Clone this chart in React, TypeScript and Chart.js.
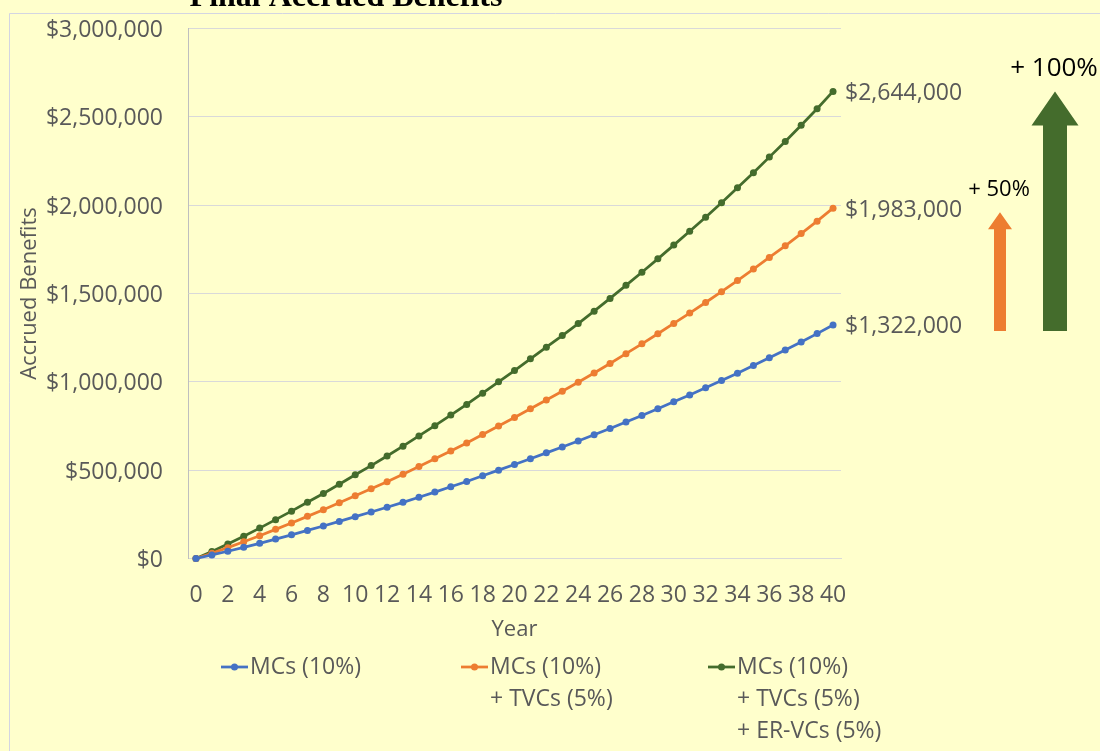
import React, { useEffect, useRef } from 'react';
import { Chart, registerables } from 'chart.js';

Chart.register(...registerables);

// ---------- data ----------
const years = ['0', '1', '2', '3', '4', '5', '6', '7', '8', '9', '10', '11', '12', '13', '14', '15', '16', '17', '18', '19', '20', '21', '22', '23', '24', '25', '26', '27', '28', '29', '30', '31', '32', '33', '34', '35', '36', '37', '38', '39', '40'];

const mcs = [0, 20000, 41000, 63000, 86000, 110000, 134000, 159000, 184000, 210000, 237000, 263000, 290000, 318000, 347000, 376000, 406000, 436000, 468000, 500000, 532000, 565000, 598000, 631000, 665000, 700000, 736000, 773000, 810000, 848000, 887000, 926000, 966000, 1007000, 1049000, 1092000, 1136000, 1180000, 1226000, 1273000, 1322000];

const mcsTvcs = [0, 30000, 61500, 94500, 129000, 165000, 201000, 238500, 276000, 315000, 355500, 394500, 435000, 477000, 520500, 564000, 609000, 654000, 702000, 750000, 798000, 847500, 897000, 946500, 997500, 1050000, 1104000, 1159500, 1215000, 1272000, 1330500, 1389000, 1449000, 1510500, 1573500, 1638000, 1704000, 1770000, 1839000, 1909500, 1983000];

const mcsTvcsErvcs = [0, 40000, 82000, 126000, 172000, 220000, 268000, 318000, 368000, 420000, 474000, 526000, 580000, 636000, 694000, 752000, 812000, 872000, 936000, 1000000, 1064000, 1130000, 1196000, 1262000, 1330000, 1400000, 1472000, 1546000, 1620000, 1696000, 1774000, 1852000, 1932000, 2014000, 2098000, 2184000, 2272000, 2360000, 2452000, 2546000, 2644000];

const yTickValues = [0, 500000, 1000000, 1500000, 2000000, 2500000, 3000000];

const seriesNames = [
  ['MCs (10%)'],
  ['MCs (10%)', '+ TVCs (5%)'],
  ['MCs (10%)', '+ TVCs (5%)', '+ ER-VCs (5%)'],
];

const chartTitle = 'Final Accrued Benefits';
const xTitle = 'Year';
const yTitle = 'Accrued Benefits';
const increaseLabels = ['+ 50%', '+ 100%'];

// ---------- styles ----------
const BG = '#FFFFCC';
const TEXT = '#595959';
const FONT = '"Open Sans"';
const COLORS = ['#4472C4', '#ED7D31', '#446C2C'];

const money = (v: number) => '$' + Math.round(v).toLocaleString('en-US');

const decorPlugin = {
  id: 'decor',
  beforeDraw(chart: any) {
    const { ctx, width, height } = chart;
    ctx.save();
    ctx.fillStyle = BG;
    ctx.fillRect(0, 0, width, height);
    // outer frame
    ctx.strokeStyle = '#D3D5E2';
    ctx.lineWidth = 1;
    ctx.beginPath();
    ctx.moveTo(9.5, height + 5);
    ctx.lineTo(9.5, 13.5);
    ctx.lineTo(width + 5, 13.5);
    ctx.stroke();
    // title (cut off at the top)
    ctx.fillStyle = '#000';
    ctx.font = 'bold 32px "Liberation Serif"';
    ctx.textAlign = 'center';
    ctx.textBaseline = 'alphabetic';
    ctx.fillText(chartTitle, 346, 6);
    ctx.restore();
  },
  afterDraw(chart: any) {
    const { ctx } = chart;
    const y = chart.scales.y;
    const area = chart.chartArea;
    ctx.save();

    // axis titles
    ctx.fillStyle = TEXT;
    ctx.font = `22px ${FONT}`;
    ctx.textAlign = 'center';
    ctx.textBaseline = 'middle';
    ctx.fillText(xTitle, (area.left + area.right) / 2, 630);
    ctx.save();
    ctx.translate(30, (area.top + area.bottom) / 2);
    ctx.rotate(-Math.PI / 2);
    ctx.fillText(yTitle, 0, 0);
    ctx.restore();

    // end-value labels
    ctx.font = `23px ${FONT}`;
    ctx.textAlign = 'left';
    chart.data.datasets.forEach((ds: any, i: number) => {
      const meta = chart.getDatasetMeta(i);
      const last = meta.data[meta.data.length - 1];
      const v = ds.data[ds.data.length - 1];
      ctx.fillStyle = TEXT;
      ctx.fillText(money(v), last.x + 12, last.y + 2);
    });

    // arrows
    const drawArrow = (cx: number, tipY: number, baseY: number, shaftW: number, headW: number, headH: number, color: string) => {
      ctx.fillStyle = color;
      ctx.beginPath();
      ctx.moveTo(cx, tipY);
      ctx.lineTo(cx + headW / 2, tipY + headH);
      ctx.lineTo(cx + shaftW / 2, tipY + headH);
      ctx.lineTo(cx + shaftW / 2, baseY);
      ctx.lineTo(cx - shaftW / 2, baseY);
      ctx.lineTo(cx - shaftW / 2, tipY + headH);
      ctx.lineTo(cx - headW / 2, tipY + headH);
      ctx.closePath();
      ctx.fill();
    };
    const base = y.getPixelForValue(mcs[mcs.length - 1]) + 6;
    drawArrow(1000, y.getPixelForValue(mcsTvcs[mcsTvcs.length - 1]) + 4, base, 12, 24, 17, COLORS[1]);
    drawArrow(1055, y.getPixelForValue(mcsTvcsErvcs[mcsTvcsErvcs.length - 1]), base, 24, 47, 34, COLORS[2]);

    ctx.fillStyle = '#000';
    ctx.textAlign = 'center';
    ctx.font = `22px ${FONT}`;
    ctx.fillText(increaseLabels[0], 999, 190);
    ctx.font = `26px ${FONT}`;
    ctx.fillText(increaseLabels[1], 1054, 69);

    // legend
    const legendX = [221, 461, 708];
    const rowY = [667, 699, 731];
    ctx.font = `23px ${FONT}`;
    ctx.textAlign = 'left';
    seriesNames.forEach((lines, i) => {
      const x0 = legendX[i];
      ctx.strokeStyle = COLORS[i];
      ctx.lineWidth = 2.75;
      ctx.beginPath();
      ctx.moveTo(x0, rowY[0]);
      ctx.lineTo(x0 + 27, rowY[0]);
      ctx.stroke();
      ctx.fillStyle = COLORS[i];
      ctx.beginPath();
      ctx.arc(x0 + 13.5, rowY[0], 3.5, 0, Math.PI * 2);
      ctx.fill();
      ctx.fillStyle = TEXT;
      lines.forEach((t, j) => {
        ctx.fillText(t, x0 + 29, rowY[j]);
      });
    });

    ctx.restore();
  },
};

export default function App() {
  const ref = useRef<HTMLCanvasElement>(null);

  useEffect(() => {
    if (!ref.current) return;
    const mk = (label: string, data: number[], color: string) => ({
      label,
      data,
      borderColor: color,
      backgroundColor: color,
      pointBackgroundColor: color,
      pointBorderColor: color,
      pointRadius: 3.5,
      pointBorderWidth: 0,
      borderWidth: 2.75,
      tension: 0,
      clip: false as any,
    });
    const chart = new Chart(ref.current, {
      type: 'line',
      data: {
        labels: years,
        datasets: [
          mk(seriesNames[0].join(' '), mcs, COLORS[0]),
          mk(seriesNames[1].join(' '), mcsTvcs, COLORS[1]),
          mk(seriesNames[2].join(' '), mcsTvcsErvcs, COLORS[2]),
        ],
      },
      options: {
        responsive: false,
        animation: false,
        devicePixelRatio: 1,
        layout: { padding: { top: 28.5, right: 259, bottom: 0, left: 0 } },
        plugins: {
          legend: { display: false },
          tooltip: { enabled: false },
          title: { display: false },
        },
        scales: {
          x: {
            type: 'category',
            offset: true,
            grid: { display: false, drawTicks: false },
            border: { display: true, color: '#D9D9D9', width: 1 },
            ticks: {
              autoSkip: false,
              maxRotation: 0,
              padding: 23,
              color: TEXT,
              font: { family: FONT, size: 23 },
              callback: (_v: any, i: number) => (i % 2 === 0 ? years[i] : ''),
            },
            afterFit: (s: any) => {
              s.height = 192.5;
              s.paddingLeft = 0;
              s.paddingRight = 0;
              s.paddingTop = 0;
              s.paddingBottom = 0;
            },
          },
          y: {
            type: 'linear',
            min: 0,
            max: 3000000,
            afterBuildTicks: (s: any) => {
              s.ticks = yTickValues.map((v) => ({ value: v }));
            },
            grid: { color: '#D9D9D9', lineWidth: 1, drawTicks: false },
            border: { display: true, color: '#BFBFBF', width: 1 },
            ticks: {
              padding: 25,
              labelOffset: 2,
              color: TEXT,
              font: { family: FONT, size: 23 },
              callback: (v: any) => money(Number(v)),
            },
            afterFit: (s: any) => {
              s.width = 188;
              s.paddingLeft = 0;
              s.paddingRight = 0;
              s.paddingTop = 0;
              s.paddingBottom = 0;
            },
          },
        },
      },
      plugins: [decorPlugin],
    });
    return () => chart.destroy();
  }, []);

  return (
    <div style={{ position: 'absolute', left: 0, top: 0, width: 1100, height: 751, background: BG }}>
      <canvas ref={ref} width={1100} height={751} style={{ display: 'block' }} />
    </div>
  );
}
